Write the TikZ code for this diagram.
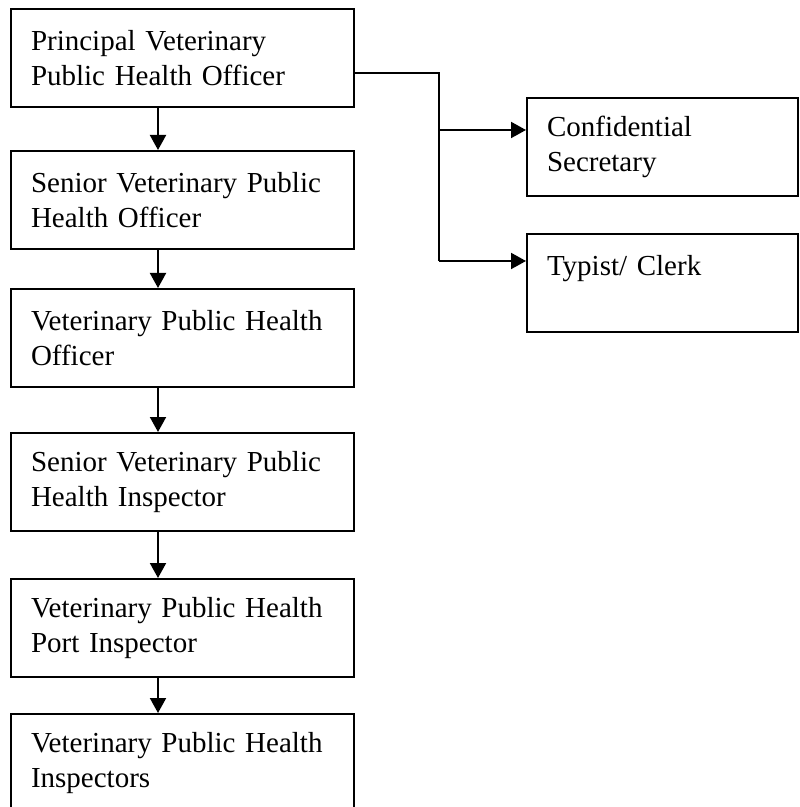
\documentclass[tikz,border=0pt]{standalone}
\usepackage{fontspec}
\setmainfont{Liberation Serif}
\usetikzlibrary{arrows.meta}

\tikzset{
	post/.style={draw,line width=1pt,anchor=north west,align=left,
		minimum height=49pt,inner xsep=10pt,inner ysep=0pt,
		font=\fontsize{14.5}{17.5}\selectfont},
	leftpost/.style={post,text width=151.5pt},
	rightpost/.style={post,text width=115.5pt},
	link/.style={line width=1pt},
	arr/.style={link,-{Triangle[width=8pt,length=7.5pt]}}
}

\begin{document}
\begin{tikzpicture}[x=0.5pt,y=-0.5pt]
	\clip (0,0) rectangle (799,807);

	\node[leftpost] (pvpho) at (10,8) {Principal Veterinary\\Public Health Officer};
	\node[leftpost] (svpho) at (10,150) {Senior Veterinary Public\\Health Officer};
	\node[leftpost] (vpho) at (10,288) {Veterinary Public Health\\Officer};
	\node[leftpost] (svphi) at (10,432) {Senior Veterinary Public\\Health Inspector};
	\node[leftpost] (vphpi) at (10,578) {Veterinary Public Health\\Port Inspector};
	\node[leftpost] (vphi) at (10,713) {Veterinary Public Health\\Inspectors};

	\node[rightpost] (secr) at (526,97) {Confidential\\Secretary};
	\node[rightpost] (clerk) at (526,233) {Typist/ Clerk\\~};

	\coordinate (spine) at (158,0);
	\coordinate (out) at (353,73);
	\coordinate (fork) at (439,73);
	\coordinate (forkA) at (439,130);
	\coordinate (forkB) at (439,261);

	\draw[arr] (pvpho.south -| spine) -- (svpho.north -| spine);
	\draw[arr] (svpho.south -| spine) -- (vpho.north -| spine);
	\draw[arr] (vpho.south -| spine) -- (svphi.north -| spine);
	\draw[arr] (svphi.south -| spine) -- (vphpi.north -| spine);
	\draw[arr] (vphpi.south -| spine) -- (vphi.north -| spine);

	\draw[link] (out) -- (fork) -- (forkB);
	\draw[arr] (forkA) -- (secr.west |- forkA);
	\draw[arr] (forkB) -- (clerk.west |- forkB);
\end{tikzpicture}
\end{document}
